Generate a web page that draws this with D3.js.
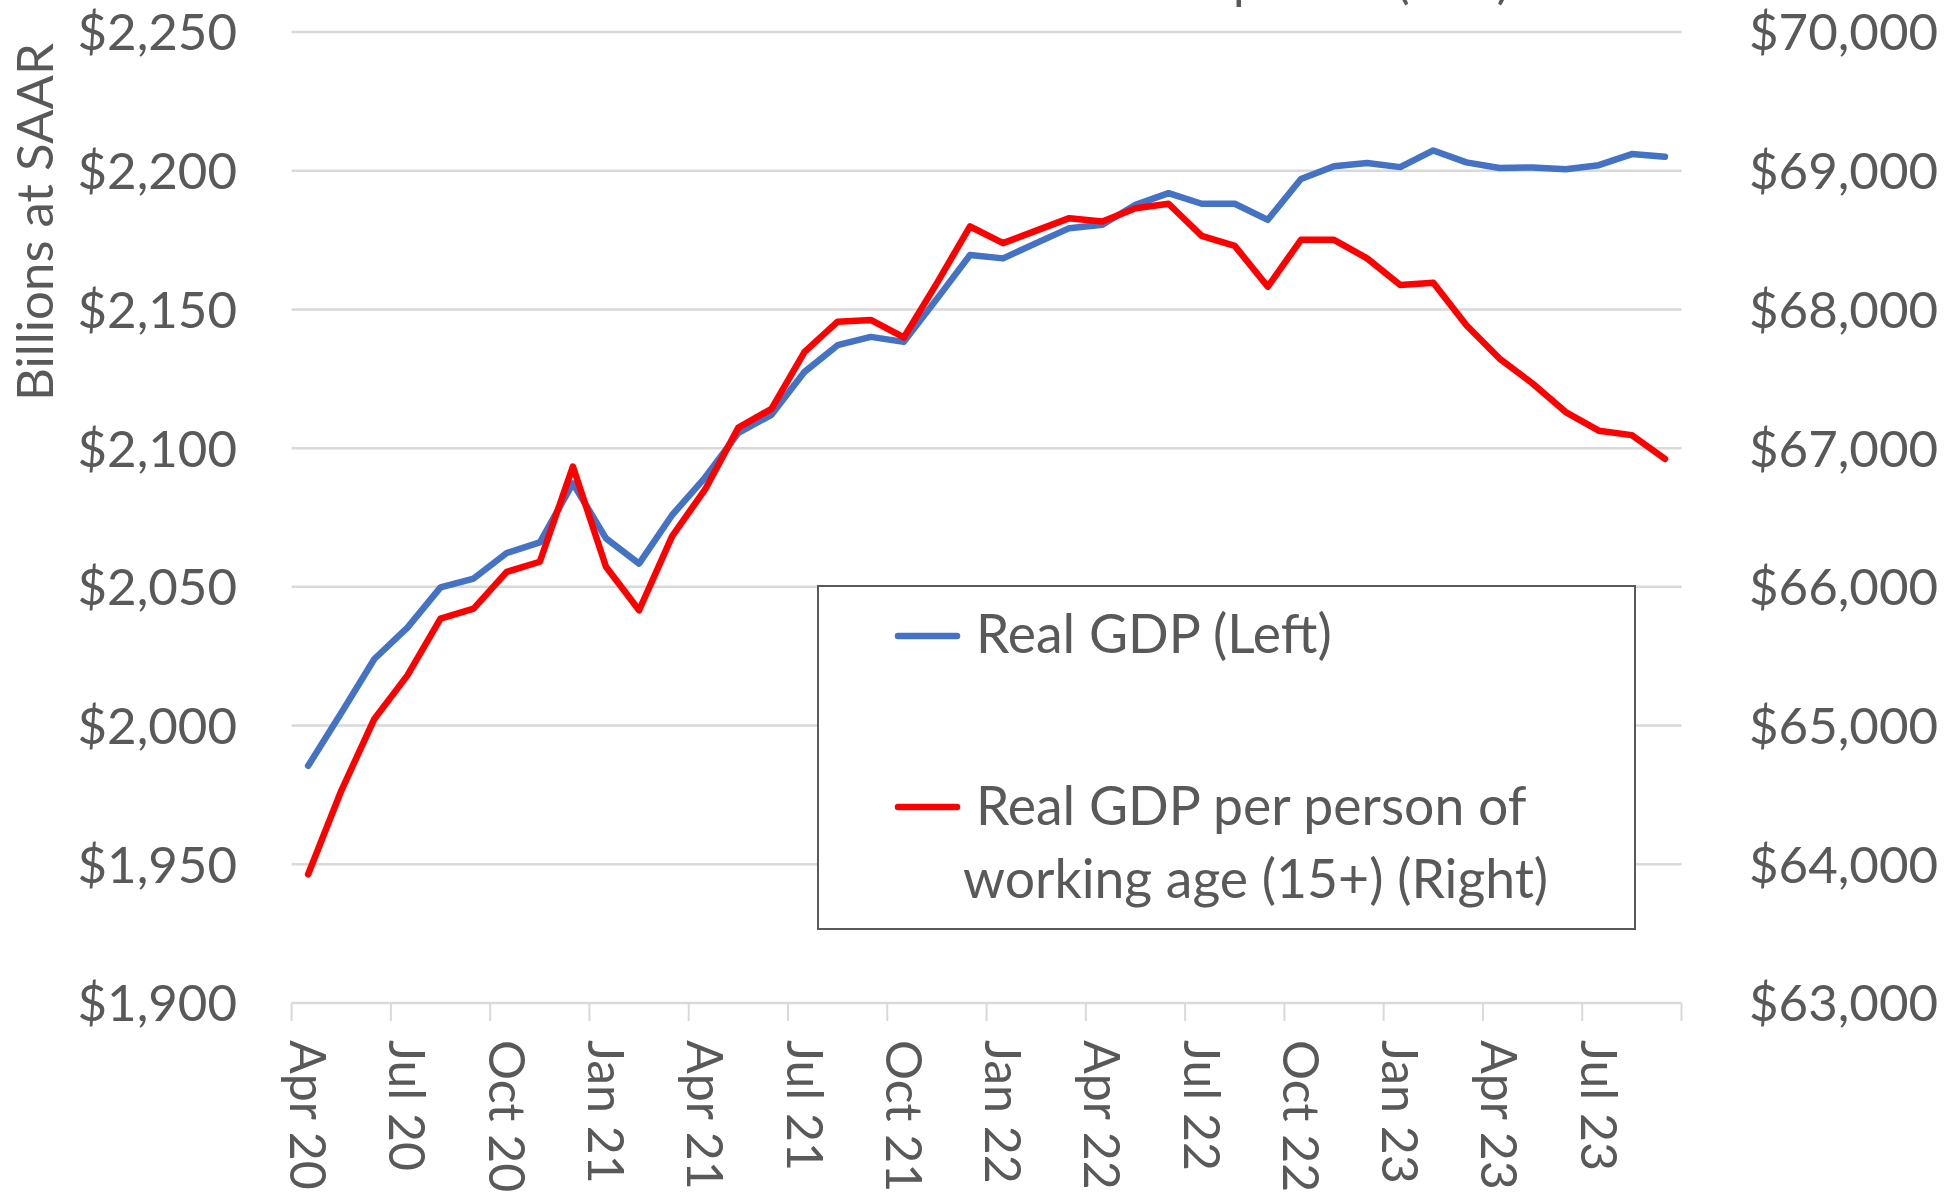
<!DOCTYPE html>
<html>
<head>
<meta charset="utf-8">
<script src="https://cdn.jsdelivr.net/npm/d3@7"></script>
<style>
  html, body { margin: 0; padding: 0; background: #fff; }
  svg { display: block; font-family: Lato, 'Noto Sans', sans-serif; }
</style>
</head>
<body>
<svg id="chart" width="1946" height="1199"></svg>
<script>
// monthly categories, Apr 2020 .. Sep 2023
const months = [
  'Apr 20', 'May 20', 'Jun 20', 'Jul 20', 'Aug 20', 'Sep 20', 'Oct 20', 'Nov 20', 'Dec 20',
  'Jan 21', 'Feb 21', 'Mar 21', 'Apr 21', 'May 21', 'Jun 21', 'Jul 21', 'Aug 21', 'Sep 21',
  'Oct 21', 'Nov 21', 'Dec 21', 'Jan 22', 'Feb 22', 'Mar 22', 'Apr 22', 'May 22', 'Jun 22',
  'Jul 22', 'Aug 22', 'Sep 22', 'Oct 22', 'Nov 22', 'Dec 22', 'Jan 23', 'Feb 23', 'Mar 23',
  'Apr 23', 'May 23', 'Jun 23', 'Jul 23', 'Aug 23', 'Sep 23'
]

// Real GDP, billions at SAAR (left axis)
const realGdp = [
  1985.5, 2004.5, 2024.0, 2035.3, 2049.8, 2053.0, 2062.2, 2066.0, 2087.3,
  2067.5, 2058.4, 2075.9, 2089.5, 2105.5, 2112.0, 2127.5, 2137.1, 2140.1,
  2138.3, 2153.8, 2169.6, 2168.4, 2173.9, 2179.3, 2180.5, 2187.7, 2191.9,
  2188.1, 2188.1, 2182.3, 2197.0, 2201.6, 2202.8, 2201.3, 2207.3, 2203.0,
  2201.0, 2201.2, 2200.5, 2202.0, 2206.0, 2205.0
]

// Real GDP per person of working age, 15+ (right axis)
const gdpPerWorker = [
  63928, 64530, 65048, 65362, 65771, 65843, 66108, 66181, 66867,
  66145, 65831, 66366, 66704, 67148, 67283, 67694, 67912, 67924,
  67798, 68190, 68598, 68478, 68568, 68658, 68634, 68730, 68762,
  68530, 68458, 68164, 68502, 68502, 68368, 68176, 68192, 67886,
  67646, 67466, 67260, 67126, 67094, 66922
]

const leftTicks = [1900, 1950, 2000, 2050, 2100, 2150, 2200, 2250]
const rightTicks = [63000, 64000, 65000, 66000, 67000, 68000, 69000, 70000]

const seriesNames = ['Real GDP (Left)', 'Real GDP per person of', 'working age (15+) (Right)']
const titleText = 'Real GDP and Real GDP Per person (15+)'

const svg = d3.select('#chart')
const textColor = '#595959'
const gridColor = '#d9d9d9'

const x = d3.scaleBand().domain(months).range([291.6, 1681.5]).paddingInner(0).paddingOuter(0)
const xc = d => x(d) + x.bandwidth() / 2
const yL = d3.scaleLinear().domain([1900, 2250]).range([1003, 32])
const yR = d3.scaleLinear().domain([63000, 70000]).range([1003, 32])
const fmt = d3.format('$,')

// title, cropped by the top edge as in the source picture
svg.append('text')
  .attr('x', 1510).attr('y', -2)
  .attr('text-anchor', 'end')
  .attr('font-size', 50)
  .attr('fill', textColor)
  .text(titleText)

// gridlines
svg.append('g')
  .selectAll('line')
  .data(leftTicks.filter(t => t !== 1900))
  .join('line')
  .attr('x1', 291.6).attr('x2', 1681.5)
  .attr('y1', d => yL(d)).attr('y2', d => yL(d))
  .attr('stroke', gridColor).attr('stroke-width', 2.5)

// x axis line + ticks every quarter
const quarterIdx = d3.range(0, months.length + 1, 3)
const xAxis = svg.append('g')
xAxis.append('line')
  .attr('x1', 291.6).attr('x2', 1681.5)
  .attr('y1', yL(1900)).attr('y2', yL(1900))
  .attr('stroke', gridColor).attr('stroke-width', 2.5)
xAxis.selectAll('line.tick')
  .data(quarterIdx)
  .join('line')
  .attr('class', 'tick')
  .attr('x1', i => i < months.length ? x(months[i]) : x.range()[1])
  .attr('x2', i => i < months.length ? x(months[i]) : x.range()[1])
  .attr('y1', yL(1900)).attr('y2', yL(1900) + 18)
  .attr('stroke', gridColor).attr('stroke-width', 2)

xAxis.selectAll('text')
  .data(quarterIdx.filter(i => i < months.length))
  .join('text')
  .attr('transform', i => `translate(${xc(months[i])},1040) rotate(90)`)
  .attr('dy', '0.36em')
  .attr('font-size', 50)
  .attr('fill', textColor)
  .text(i => months[i])

// left tick labels
svg.append('g')
  .selectAll('text')
  .data(leftTicks)
  .join('text')
  .attr('x', 237).attr('y', d => yL(d))
  .attr('dy', '0.36em')
  .attr('text-anchor', 'end')
  .attr('font-size', 51)
  .attr('fill', textColor)
  .text(d => fmt(d))

// right tick labels
svg.append('g')
  .selectAll('text')
  .data(rightTicks)
  .join('text')
  .attr('x', 1749).attr('y', d => yR(d))
  .attr('dy', '0.36em')
  .attr('text-anchor', 'start')
  .attr('font-size', 51)
  .attr('fill', textColor)
  .text(d => fmt(d))

// left axis title
svg.append('text')
  .attr('transform', 'translate(53,222) rotate(-90)')
  .attr('text-anchor', 'middle')
  .attr('font-size', 51)
  .attr('fill', textColor)
  .text('Billions at SAAR')

// lines
const lineL = d3.line().x((d, i) => xc(months[i])).y(d => yL(d))
const lineR = d3.line().x((d, i) => xc(months[i])).y(d => yR(d))

svg.append('path')
  .datum(realGdp)
  .attr('d', lineL)
  .attr('fill', 'none').attr('stroke', '#4472C4').attr('stroke-width', 6.5)
  .attr('stroke-linejoin', 'round').attr('stroke-linecap', 'round')

svg.append('path')
  .datum(gdpPerWorker)
  .attr('d', lineR)
  .attr('fill', 'none').attr('stroke', '#FF0000').attr('stroke-width', 6.5)
  .attr('stroke-linejoin', 'round').attr('stroke-linecap', 'round')

// legend
const legend = svg.append('g')
legend.append('rect')
  .attr('x', 818).attr('y', 586).attr('width', 817).attr('height', 343)
  .attr('fill', '#fff').attr('stroke', '#595959').attr('stroke-width', 2)

legend.append('line')
  .attr('x1', 898).attr('x2', 957).attr('y1', 636).attr('y2', 636)
  .attr('stroke', '#4472C4').attr('stroke-width', 6.5).attr('stroke-linecap', 'round')
legend.append('text')
  .attr('x', 976).attr('y', 653)
  .attr('font-size', 53.5).attr('fill', textColor)
  .text(seriesNames[0])

legend.append('line')
  .attr('x1', 898).attr('x2', 957).attr('y1', 807).attr('y2', 807)
  .attr('stroke', '#FF0000').attr('stroke-width', 6.5).attr('stroke-linecap', 'round')
legend.append('text')
  .attr('x', 976).attr('y', 825)
  .attr('font-size', 53.5).attr('fill', textColor)
  .text(seriesNames[1])
legend.append('text')
  .attr('x', 963).attr('y', 898)
  .attr('font-size', 53.5).attr('fill', textColor)
  .text(seriesNames[2])
</script>
</body>
</html>
